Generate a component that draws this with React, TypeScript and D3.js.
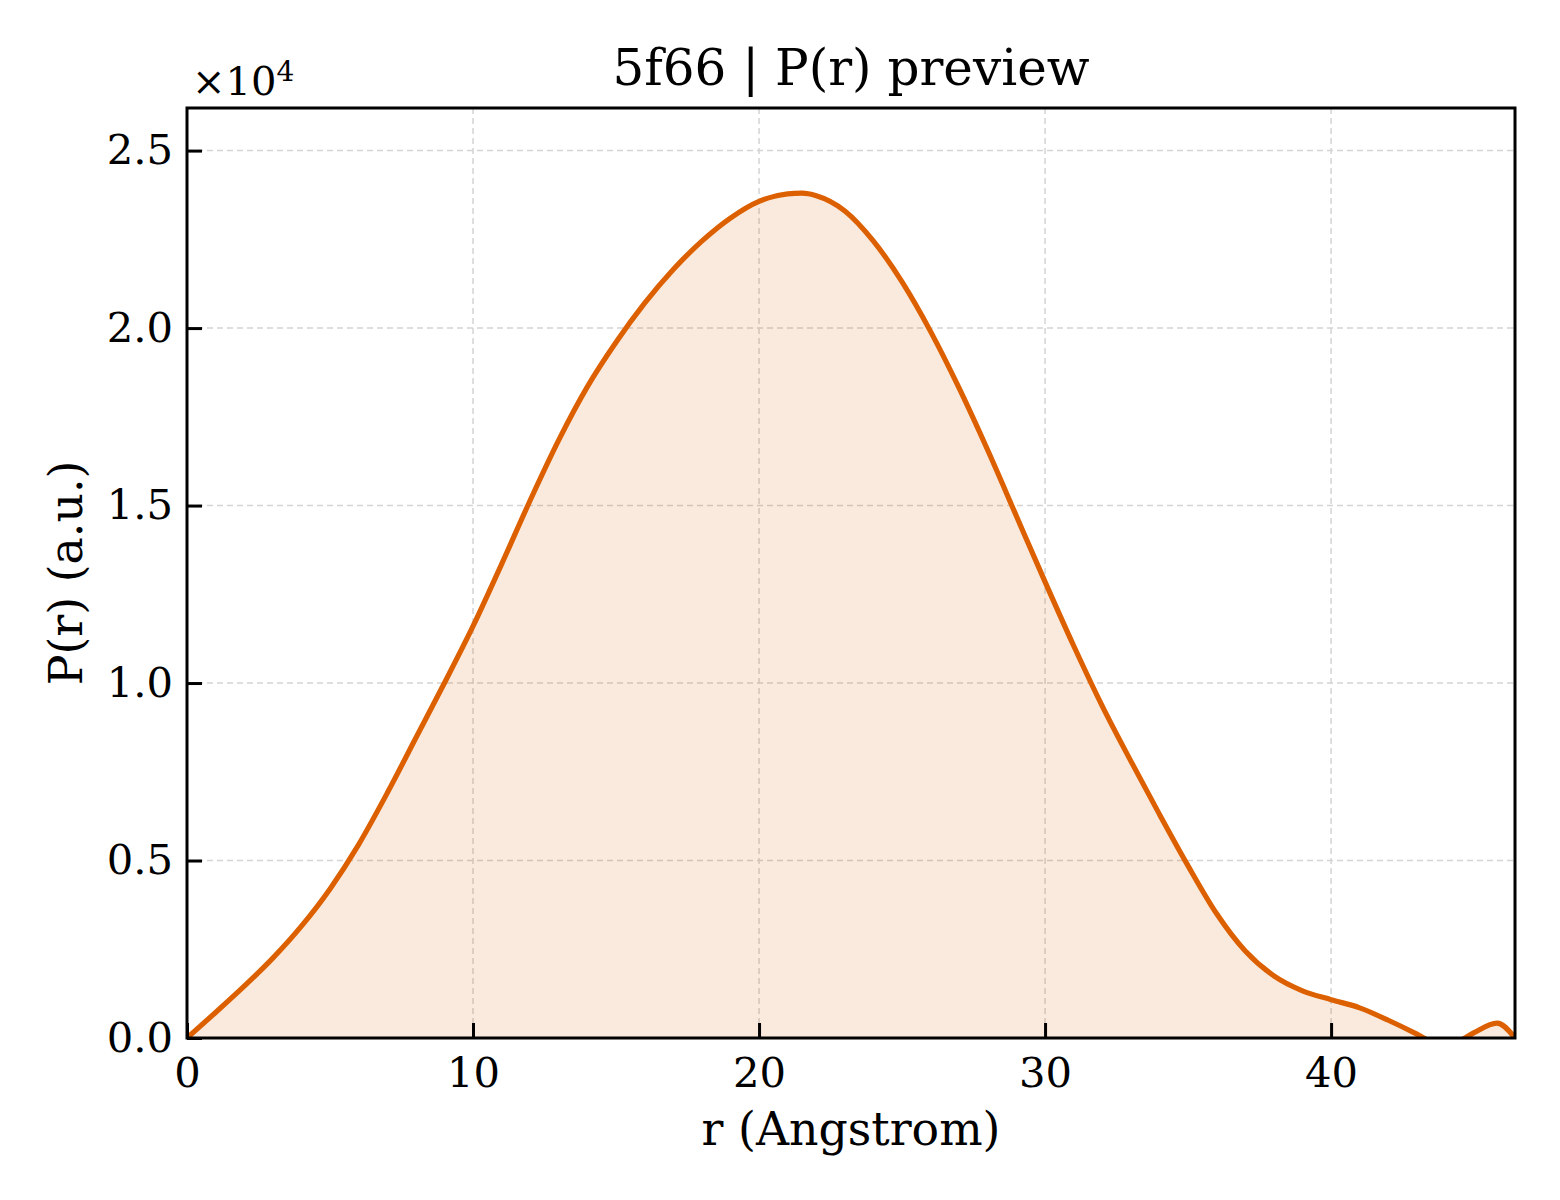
import React, { useRef, useEffect } from 'react';
import * as d3 from 'd3';

// P(r) distribution, r in Angstrom, P(r) in arbitrary units
const rValues: number[] = [
  0, 1, 2, 3, 4, 5, 6, 7, 8, 9, 10, 11, 12, 13, 14, 15, 16, 17, 18, 19, 20, 21, 21.5, 22,
  23, 24, 25, 26, 27, 28, 29, 30, 31, 32, 33, 34, 35, 36, 37, 38, 39, 40, 41, 42, 43,
  43.5, 44, 44.5, 45, 45.8, 46.43,
];
const prValues: number[] = [
  0, 720, 1460, 2250, 3150, 4200, 5450, 6900, 8450, 10000, 11600, 13350, 15150, 16850, 18350,
  19600, 20700, 21650, 22450, 23100, 23570, 23780, 23800, 23730, 23300, 22450, 21300, 19900,
  18300, 16550, 14700, 12850, 11050, 9350, 7800, 6300, 4850, 3500, 2450, 1750, 1330, 1080,
  850, 500, 110, -100, -200, -80, 150, 420, 0,
];
const xTicks: number[] = [0, 10, 20, 30, 40];
const yTicks: number[] = [0, 5000, 10000, 15000, 20000, 25000];

const title = '5f66 | P(r) preview';
const xLabel = 'r (Angstrom)';
const yLabel = 'P(r) (a.u.)';

const PrChart: React.FC = () => {
  const svgRef = useRef<SVGSVGElement | null>(null);

  useEffect(() => {
    const svg = d3.select(svgRef.current);
    const width = 1560;
    const height = 1200;
    const margin = { top: 108, right: 45, bottom: 162, left: 187 };
    const font = 'DejaVu Serif, serif';
    const lineColor = '#dc6000';

    svg.selectAll('*').remove();

    const data = rValues.map((r, i) => ({ r, p: prValues[i] }));

    const xScale = d3.scaleLinear()
      .domain([0, 46.43])
      .range([margin.left, width - margin.right]);

    const yScale = d3.scaleLinear()
      .domain([0, 26200])
      .range([height - margin.bottom, margin.top]);

    svg.append('rect')
      .attr('width', width)
      .attr('height', height)
      .attr('fill', '#ffffff');

    svg.append('clipPath')
      .attr('id', 'plot-clip')
      .append('rect')
      .attr('x', margin.left)
      .attr('y', margin.top)
      .attr('width', width - margin.left - margin.right)
      .attr('height', height - margin.top - margin.bottom);

    // grid
    const grid = svg.append('g');
    grid.selectAll('.gx')
      .data(xTicks.filter(t => t > 0))
      .enter()
      .append('line')
      .attr('x1', d => xScale(d))
      .attr('x2', d => xScale(d))
      .attr('y1', margin.top)
      .attr('y2', height - margin.bottom)
      .attr('stroke', '#d4d4d4')
      .attr('stroke-width', 1.5)
      .attr('stroke-dasharray', '6,4');
    grid.selectAll('.gy')
      .data(yTicks.filter(t => t > 0))
      .enter()
      .append('line')
      .attr('x1', margin.left)
      .attr('x2', width - margin.right)
      .attr('y1', d => yScale(d))
      .attr('y2', d => yScale(d))
      .attr('stroke', '#d4d4d4')
      .attr('stroke-width', 1.5)
      .attr('stroke-dasharray', '6,4');

    const plot = svg.append('g').attr('clip-path', 'url(#plot-clip)');

    const area = d3.area<{ r: number; p: number }>()
      .x(d => xScale(d.r))
      .y0(yScale(0))
      .y1(d => yScale(d.p))
      .curve(d3.curveMonotoneX);

    const line = d3.line<{ r: number; p: number }>()
      .x(d => xScale(d.r))
      .y(d => yScale(d.p))
      .curve(d3.curveMonotoneX);

    plot.append('path')
      .datum(data)
      .attr('d', area)
      .attr('fill', lineColor)
      .attr('fill-opacity', 0.13);

    plot.append('path')
      .datum(data)
      .attr('d', line)
      .attr('fill', 'none')
      .attr('stroke', lineColor)
      .attr('stroke-width', 5.2)
      .attr('stroke-linejoin', 'round');

    // axes with inward ticks
    const xAxis = svg.append('g')
      .attr('transform', `translate(0,${height - margin.bottom})`)
      .call(d3.axisBottom(xScale).tickValues(xTicks).tickSizeInner(-15).tickSizeOuter(0).tickPadding(19).tickFormat(d3.format('d')));
    xAxis.select('.domain').remove();
    xAxis.selectAll('line').attr('stroke', '#000').attr('stroke-width', 3);
    xAxis.selectAll('text').attr('font-family', font).attr('font-size', 41.7).attr('fill', '#000');

    const yAxis = svg.append('g')
      .attr('transform', `translate(${margin.left},0)`)
      .call(d3.axisLeft(yScale).tickValues(yTicks).tickSizeInner(-15).tickSizeOuter(0).tickPadding(14).tickFormat(d => (Number(d) / 10000).toFixed(1)));
    yAxis.select('.domain').remove();
    yAxis.selectAll('line').attr('stroke', '#000').attr('stroke-width', 3);
    yAxis.selectAll('text').attr('font-family', font).attr('font-size', 41.7).attr('fill', '#000');

    // frame
    svg.append('rect')
      .attr('x', margin.left)
      .attr('y', margin.top)
      .attr('width', width - margin.left - margin.right)
      .attr('height', height - margin.top - margin.bottom)
      .attr('fill', 'none')
      .attr('stroke', '#000')
      .attr('stroke-width', 3);

    // offset text
    const off = svg.append('text')
      .attr('x', margin.left + 5)
      .attr('y', 95)
      .attr('font-family', font)
      .attr('font-size', 40)
      .attr('fill', '#000');
    off.append('tspan').text('\u00d710');
    off.append('tspan').attr('font-size', 28).attr('dy', -14).text('4');

    svg.append('text')
      .attr('x', (margin.left + width - margin.right) / 2)
      .attr('y', 85)
      .attr('text-anchor', 'middle')
      .attr('font-family', font)
      .attr('font-size', 50)
      .attr('fill', '#000')
      .text(title);

    svg.append('text')
      .attr('x', (margin.left + width - margin.right) / 2)
      .attr('y', 1145)
      .attr('text-anchor', 'middle')
      .attr('font-family', font)
      .attr('font-size', 45.8)
      .attr('fill', '#000')
      .text(xLabel);

    svg.append('text')
      .attr('transform', `translate(82,${(margin.top + height - margin.bottom) / 2}) rotate(-90)`)
      .attr('text-anchor', 'middle')
      .attr('font-family', font)
      .attr('font-size', 45.8)
      .attr('fill', '#000')
      .text(yLabel);
  }, []);

  return (
    <svg ref={svgRef} width={1560} height={1200} style={{ position: 'absolute', left: 0, top: 0, display: 'block' }}></svg>
  );
};

export default function App() {
  return <PrChart />;
}
